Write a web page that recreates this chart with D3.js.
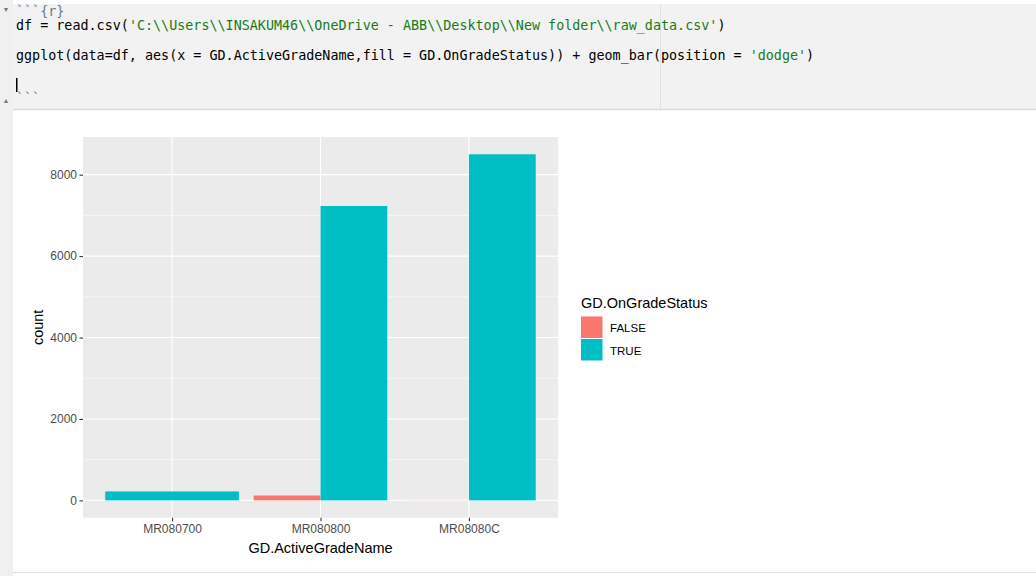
<!DOCTYPE html>
<html>
<head>
<meta charset="utf-8">
<script src="https://cdn.jsdelivr.net/npm/d3@7"></script>
<style>
  body { margin: 0; background: #fff; }
  svg { display: block; }
</style>
</head>
<body>
<div id="chart"></div>
<script>
// data
const categories = ["MR080700", "MR080800", "MR08080C"];
const groups = ["FALSE", "TRUE"];
const falseCounts = [null, 120, 2];     // null = group absent for that category
const trueCounts = [220, 7230, 8500];
const yTicks = [0, 2000, 4000, 6000, 8000];
const yMinor = [1000, 3000, 5000, 7000];
const codeLines = [
  [["```{r}", "#6a7a8c"]],
  [["df = read.csv(", "#000"], ["'C:\\\\Users\\\\INSAKUM46\\\\OneDrive - ABB\\\\Desktop\\\\New folder\\\\raw_data.csv'", "#1a7a1a"], [")", "#000"]],
  [],
  [["ggplot(data=df, aes(x = GD.ActiveGradeName,fill = GD.OnGradeStatus)) + geom_bar(position = ", "#000"], ["'dodge'", "#1a7a1a"], [")", "#000"]],
  [],
  [["```", "#6a7a8c"]]
];

const W = 1036, H = 576;
const panel = { left: 83, right: 558, top: 137, bottom: 517.7 };
const colors = { FALSE: "#F8766D", TRUE: "#00BFC4" };

const svg = d3.select("#chart").append("svg")
  .attr("width", W).attr("height", H);

// --- RStudio notebook chrome ---
svg.append("rect").attr("x", 0).attr("y", 0).attr("width", 13).attr("height", H).attr("fill", "#f0f0f0");
svg.append("rect").attr("x", 13).attr("y", 4).attr("width", W - 13).attr("height", 105).attr("fill", "#f2f2f2");
svg.append("line").attr("x1", 13).attr("x2", W).attr("y1", 109.5).attr("y2", 109.5).attr("stroke", "#dcdcdc").attr("stroke-width", 1.5);
svg.append("line").attr("x1", 660.5).attr("x2", 660.5).attr("y1", 4).attr("y2", 109).attr("stroke", "#e2e2e2");
svg.append("line").attr("x1", 13).attr("x2", W).attr("y1", 572.5).attr("y2", 572.5).attr("stroke", "#e0e0e0").attr("stroke-width", 1.2);
svg.append("text").attr("x", 6).attr("y", 12).attr("text-anchor", "middle")
  .attr("font-size", 7).attr("fill", "#777").text("\u25BC");
svg.append("text").attr("x", 6).attr("y", 103).attr("text-anchor", "middle")
  .attr("font-size", 7).attr("fill", "#777").text("\u25B2");

const lineY = [11, 25, 40, 55, 70, 98];
codeLines.forEach((segs, i) => {
  if (!segs.length) return;
  const t = svg.append("text")
    .attr("x", 16).attr("y", lineY[i]).attr("dominant-baseline", "central")
    .attr("font-family", "'DejaVu Sans Mono', monospace")
    .attr("font-size", 13.4)
    .attr("xml:space", "preserve");
  segs.forEach(s => t.append("tspan").attr("fill", s[1]).text(s[0]));
});
// text cursor
svg.append("rect").attr("x", 16).attr("y", 78).attr("width", 1.5).attr("height", 14).attr("fill", "#000");

// --- ggplot panel ---
const yMax = d3.max(trueCounts.concat(falseCounts.filter(d => d != null)));
const y = d3.scaleLinear()
  .domain([-0.05 * yMax, yMax * 1.05])
  .range([panel.bottom, panel.top]);

const unit = (panel.right - panel.left) / (categories.length - 1 + 1.2);
const x = d3.scalePoint()
  .domain(categories)
  .range([panel.left + 0.6 * unit, panel.right - 0.6 * unit]);

svg.append("rect")
  .attr("x", panel.left).attr("y", panel.top)
  .attr("width", panel.right - panel.left).attr("height", panel.bottom - panel.top)
  .attr("fill", "#EBEBEB");

svg.append("g").selectAll("line").data(yMinor).join("line")
  .attr("x1", panel.left).attr("x2", panel.right)
  .attr("y1", d => y(d)).attr("y2", d => y(d))
  .attr("stroke", "#fff").attr("stroke-width", 0.55);
svg.append("g").selectAll("line").data(yTicks).join("line")
  .attr("x1", panel.left).attr("x2", panel.right)
  .attr("y1", d => y(d)).attr("y2", d => y(d))
  .attr("stroke", "#fff").attr("stroke-width", 1.1);
svg.append("g").selectAll("line").data(categories).join("line")
  .attr("x1", d => x(d)).attr("x2", d => x(d))
  .attr("y1", panel.top).attr("y2", panel.bottom)
  .attr("stroke", "#fff").attr("stroke-width", 1.1);

// dodge bars: group width 0.9 split among present groups
const bars = [];
categories.forEach((c, i) => {
  const vals = [falseCounts[i], trueCounts[i]];
  const present = groups.filter((g, j) => vals[j] != null);
  const bw = 0.9 * unit / present.length;
  const x0 = x(c) - 0.45 * unit;
  present.forEach((g, k) => {
    bars.push({ cat: c, group: g, value: vals[groups.indexOf(g)], x: x0 + k * bw, w: bw });
  });
});
svg.append("g").selectAll("rect").data(bars).join("rect")
  .attr("x", d => d.x).attr("width", d => d.w)
  .attr("y", d => y(d.value)).attr("height", d => y(0) - y(d.value))
  .attr("fill", d => colors[d.group]);

// axes
const yAxis = svg.append("g")
  .attr("transform", `translate(${panel.left},0)`)
  .call(d3.axisLeft(y).tickValues(yTicks).tickSize(3.5).tickPadding(2.5).tickFormat(d3.format("d")));
const xAxis = svg.append("g")
  .attr("transform", `translate(0,${panel.bottom})`)
  .call(d3.axisBottom(x).tickSize(3.5).tickPadding(3.5));
[yAxis, xAxis].forEach(a => {
  a.select(".domain").remove();
  a.selectAll(".tick line").attr("stroke", "#333").attr("stroke-width", 1.1);
  a.selectAll(".tick text")
    .attr("fill", "#4D4D4D")
    .attr("font-family", "'Liberation Sans', Arial, sans-serif")
    .attr("font-size", 12);
});

svg.append("text")
  .attr("x", (panel.left + panel.right) / 2).attr("y", 547.5)
  .attr("text-anchor", "middle").attr("dominant-baseline", "central")
  .attr("font-family", "'Liberation Sans', Arial, sans-serif").attr("font-size", 14.5)
  .attr("fill", "#000").text("GD.ActiveGradeName");
svg.append("text")
  .attr("transform", `translate(38,${(panel.top + panel.bottom) / 2}) rotate(-90)`)
  .attr("text-anchor", "middle").attr("dominant-baseline", "central")
  .attr("font-family", "'Liberation Sans', Arial, sans-serif").attr("font-size", 14.5)
  .attr("fill", "#000").text("count");

// legend
const legend = svg.append("g").attr("transform", "translate(581,0)");
legend.append("text")
  .attr("x", 0).attr("y", 302.5).attr("dominant-baseline", "central")
  .attr("font-family", "'Liberation Sans', Arial, sans-serif").attr("font-size", 14.5)
  .attr("fill", "#000").text("GD.OnGradeStatus");
const keyY = d3.scaleBand().domain(groups).range([316, 361]);
legend.selectAll("rect.key").data(groups).join("rect")
  .attr("class", "key")
  .attr("x", 0).attr("y", d => keyY(d) + 0.5)
  .attr("width", 21.5).attr("height", keyY.bandwidth() - 1)
  .attr("fill", d => colors[d]);
legend.selectAll("text.lab").data(groups).join("text")
  .attr("class", "lab")
  .attr("x", 29).attr("y", d => keyY(d) + keyY.bandwidth() / 2 + 1)
  .attr("dominant-baseline", "central")
  .attr("font-family", "'Liberation Sans', Arial, sans-serif").attr("font-size", 11.5)
  .attr("fill", "#000").text(d => d);
</script>
</body>
</html>
